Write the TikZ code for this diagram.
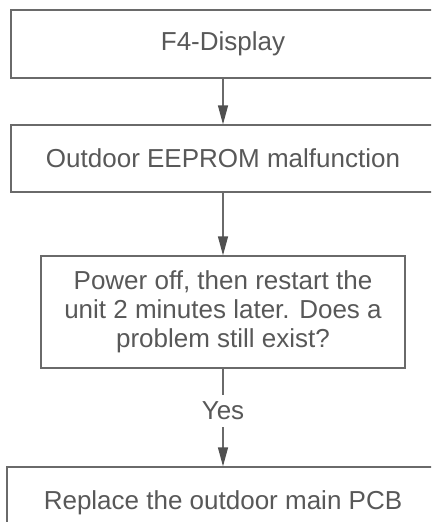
\documentclass[tikz,border=0pt]{standalone}
\usepackage{fontspec}
\setmainfont{Liberation Sans}
\usetikzlibrary{arrows.meta}
\definecolor{txtgray}{HTML}{585858}
\definecolor{linegray}{HTML}{6A6A6A}
\definecolor{headgray}{HTML}{505050}

\begin{document}
\begin{tikzpicture}[x=1pt,y=-1pt,
  box/.style={draw=linegray,line width=1.3pt,text=txtgray,align=center,
    font=\fontsize{26}{29}\selectfont,inner sep=0pt},
  flow/.style={draw=linegray,line width=1.3pt,
    -{Triangle[length=19pt,width=10pt,color=headgray]}}]
  \path[use as bounding box,clip] (0,0) rectangle (431,522);
  \node[box,minimum width=424pt,minimum height=68pt] (disp) at (223,44) {F4-Display};
  \node[box,minimum width=424pt,minimum height=67pt] (eeprom) at (223,158.5) {Outdoor EEPROM malfunction};
  \node[box,minimum width=364pt,minimum height=112pt] (restart) at (223,312)
    {Power off, then restart the\\unit 2 minutes later. Does a\\problem still exist?};
  \node[box,minimum width=432pt,minimum height=72pt] (pcb) at (223,503) {Replace the outdoor main PCB};
  \draw[flow] (disp) -- (eeprom);
  \draw[flow] (eeprom) -- (restart);
  \draw[flow] (restart) -- node[pos=0.43,fill=white,text=txtgray,inner sep=7pt,
    font=\fontsize{26}{29}\selectfont] (yes) {Yes} (pcb);
\end{tikzpicture}
\end{document}
